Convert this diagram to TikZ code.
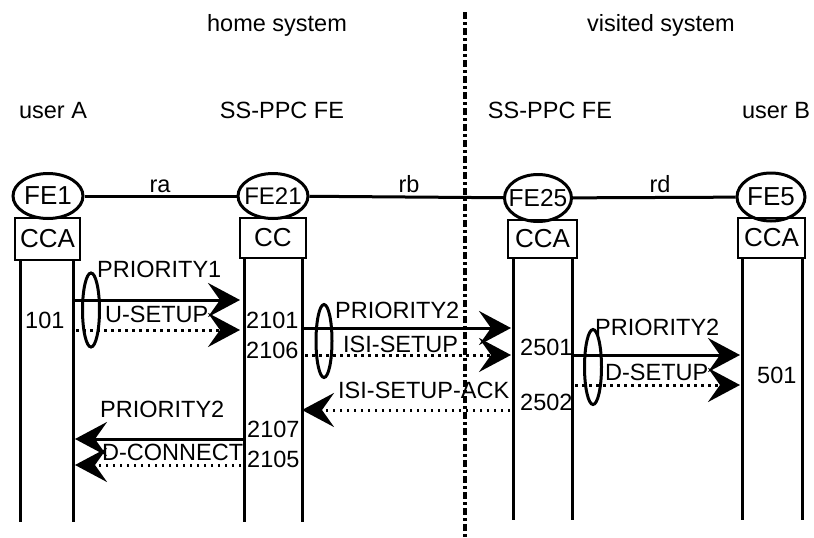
\documentclass[tikz,border=0pt]{standalone}
\usepackage{fontspec}
\setmainfont{Liberation Sans}
\usepackage{tikz}
\usetikzlibrary{positioning,calc,shapes,arrows.meta}
\tikzstyle{fe}=[ellipse, draw, line width=3pt, inner sep=0pt, minimum width=70pt, minimum height=45pt]
\tikzstyle{fa}=[rectangle, draw, line width=2.5pt, inner sep=0pt, minimum width=66pt, minimum height=40pt, font=\fontsize{26}{30}\selectfont]
\tikzstyle{txt}=[inner sep=0pt, anchor=base, font=\fontsize{23.5}{28}\selectfont]
\tikzstyle{fetxt}=[inner sep=0pt, anchor=center, font=\fontsize{26}{30}\selectfont]
\tikzstyle{num}=[txt, anchor=base west]
\tikzstyle{life}=[line width=3pt]
\tikzstyle{sig}=[line width=3pt, -{Stealth[length=32pt,width=34pt,inset=12pt]}]
\tikzstyle{sigd}=[sig, dash pattern=on 2.5pt off 4.5pt]
\tikzstyle{grp}=[ellipse, draw, line width=3pt, inner sep=0pt, minimum width=17pt, minimum height=74pt]

\begin{document}
\begin{tikzpicture}[x=1pt, y=-1pt]
				\useasboundingbox (0,0) rectangle (814,538);
				\node[txt] (home) at (277,31) {home system};
				\node[txt] (visited) at (661,31) {visited system};
				\node[txt] (userA) at (53,118) {user A};
				\node[txt] (ssA) at (282,118) {SS-PPC FE};
				\node[txt] (ssB) at (550,118) {SS-PPC FE};
				\node[txt] (userB) at (776,118) {user B};
				\coordinate (sysT) at (465,12);
				\coordinate (sysB) at (465,538);
				\draw[line width=3.5pt, dash pattern=on 7pt off 3pt on 3pt off 3pt] (sysT) -- (sysB);
				\node[fe, label={[fetxt]center:FE1}] (fe1) at (48,196) {};
				\node[fe, label={[fetxt, font=\fontsize{24}{28}\selectfont]center:FE21}] (fe21) at (273,196) {};
				\node[fe, minimum width=67pt, minimum height=47pt, label={[fetxt, font=\fontsize{24.5}{28}\selectfont]center:FE25}] (fe25) at (538,198) {};
				\node[fe, minimum width=68pt, minimum height=48pt, label={[fetxt]center:FE5}] (fe5) at (771,197) {};
				\draw[life] (fe1) -- (fe21);
				\draw[life] (fe21) -- (fe25);
				\draw[life] (fe25) -- (fe5);
				\node[txt] (ra) at (160,192) {ra};
				\node[txt] (rb) at (409,192) {rb};
				\node[txt] (rd) at (660,192) {rd};
				\node[fa, minimum width=65pt, minimum height=42pt] (cca1) at (47.5,239) {CCA};
				\node[fa] (cc21) at (273,238) {CC};
				\node[fa, minimum width=69pt, minimum height=38pt] (cca25) at (542.5,239) {CCA};
				\node[fa, minimum width=67pt] (cca5) at (771.5,238) {CCA};
				\draw[life] (20,260) -- (20,522);
				\draw[life] (73,260) -- (73,522);
				\draw[life] (244,258) -- (244,522);
				\draw[life] (302,258) -- (302,522);
				\draw[life] (513,258) -- (513,520);
				\draw[life] (572,258) -- (572,520);
				\draw[life] (742,258) -- (742,520);
				\draw[life] (802,258) -- (802,520);
				\coordinate (m1a) at (73,300);
				\coordinate (m1b) at (240,300);
				\coordinate (m2a) at (76,330);
				\coordinate (m2b) at (240,330);
				\draw[sig] (m1a) -- (m1b);
				\draw[sigd] (m2a) -- (m2b);
				\node[grp] (g1) at (91,310) {};
				\node[num] (p1) at (97,277) {PRIORITY1};
				\node[num] (usetup) at (105,322) {U-SETUP};
				\node[num] (n101) at (25,328) {101};
				\node[num] (n2101) at (246,328) {2101};
				\node[num] (n2106) at (246,358) {2106};
				\coordinate (m3a) at (302,328);
				\coordinate (m3b) at (511,328);
				\coordinate (m4a) at (305,355);
				\coordinate (m4b) at (511,355);
				\draw[sig] (m3a) -- (m3b);
				\draw[sigd] (m4a) -- (m4b);
				\node[grp, minimum width=16pt, minimum height=73pt] (g2) at (324,341) {};
				\node[num] (p2) at (335,318) {PRIORITY2};
				\node[num] (isisetup) at (343,352) {ISI-SETUP};
				\coordinate (m5a) at (510,410);
				\coordinate (m5b) at (302,410);
				\draw[sigd] (m5a) -- (m5b);
				\node[num] (isiack) at (338,398) {ISI-SETUP-ACK};
				\node[num] (n2501) at (520,355) {2501};
				\node[num] (n2502) at (520,410) {2502};
				\coordinate (m6a) at (572,355);
				\coordinate (m6b) at (740,355);
				\coordinate (m7a) at (575,385);
				\coordinate (m7b) at (740,385);
				\draw[sig] (m6a) -- (m6b);
				\draw[sigd] (m7a) -- (m7b);
				\node[grp, minimum height=75pt] (g3) at (593,367) {};
				\node[num] (p3) at (595,335) {PRIORITY2};
				\node[num] (dsetup) at (605,380) {D-SETUP};
				\node[num] (n501) at (757,383) {501};
				\coordinate (m8a) at (244,439);
				\coordinate (m8b) at (75,439);
				\coordinate (m9a) at (241,465);
				\coordinate (m9b) at (75,465);
				\draw[sig] (m8a) -- (m8b);
				\draw[sigd] (m9a) -- (m9b);
				\node[num] (p4) at (100,417) {PRIORITY2};
				\node[num] (dconn) at (102,460) {D-CONNECT};
				\node[num] (n2107) at (247,437) {2107};
				\node[num] (n2105) at (247,467) {2105};
			\end{tikzpicture}
\end{document}
